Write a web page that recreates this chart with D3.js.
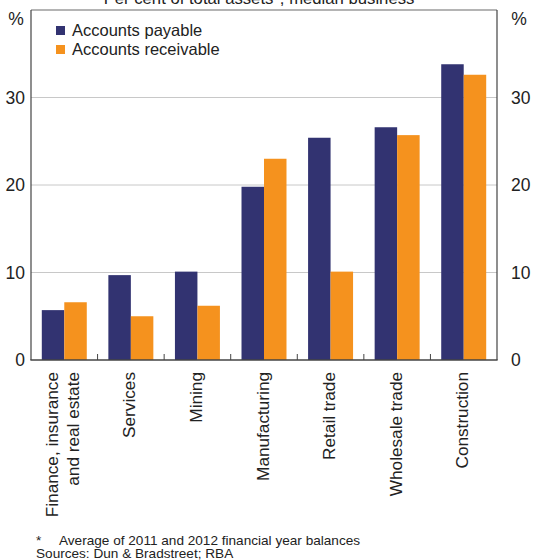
<!DOCTYPE html>
<html>
<head>
<meta charset="utf-8">
<script src="https://cdn.jsdelivr.net/npm/d3@7"></script>
<style>
  html, body { margin: 0; padding: 0; background: #fff; }
  svg { display: block; font-family: "Liberation Sans", Arial, sans-serif; }
</style>
</head>
<body>
<svg id="chart" width="533" height="560"></svg>
<script>
const categories = [
  ["Finance, insurance", "and real estate"],
  ["Services"],
  ["Mining"],
  ["Manufacturing"],
  ["Retail trade"],
  ["Wholesale trade"],
  ["Construction"]
];
const seriesNames = ["Accounts payable", "Accounts receivable"];
const payable    = [5.7, 9.7, 10.1, 19.8, 25.4, 26.6, 33.8];
const receivable = [6.6, 5.0, 6.2, 23.0, 10.1, 25.7, 32.6];
const yTicks = [0, 10, 20, 30];
const colors = ["#323371", "#F5921E"];

const svg = d3.select("#chart");
const m = { left: 31, right: 497, top: 10, bottom: 360 };
const txt = "#222";

const x = d3.scaleBand().domain(d3.range(categories.length)).range([m.left, m.right]).paddingInner(0).paddingOuter(0);
const xs = d3.scaleBand().domain([0, 1]).range([0, x.bandwidth()]).paddingInner(0).paddingOuter(0.48);
const y = d3.scaleLinear().domain([0, 40]).range([m.bottom, m.top]);

// title (cut off at top)
svg.append("text").attr("x", 259).attr("y", 3.5).attr("text-anchor", "middle")
  .attr("font-size", 16.7).attr("fill", txt).text("Per cent of total assets*, median business");

// gridlines
svg.append("g").selectAll("line").data(yTicks.filter(d => d > 0)).join("line")
  .attr("x1", m.left).attr("x2", m.right)
  .attr("y1", d => y(d)).attr("y2", d => y(d))
  .attr("stroke", "#c8c8c8").attr("stroke-width", 1);

// bars
const data = categories.map((c, i) => [payable[i], receivable[i]]);
const groups = svg.append("g").selectAll("g").data(data).join("g")
  .attr("transform", (d, i) => `translate(${x(i)},0)`);
groups.selectAll("rect").data(d => d).join("rect")
  .attr("x", (d, j) => xs(j)).attr("width", xs.bandwidth())
  .attr("y", d => y(d)).attr("height", d => y(0) - y(d))
  .attr("fill", (d, j) => colors[j]);

// frame
svg.append("line").attr("x1", m.left).attr("x2", m.right).attr("y1", m.top).attr("y2", m.top)
  .attr("stroke", "#6a6a6a").attr("stroke-width", 1.2);
svg.append("line").attr("x1", m.left).attr("x2", m.left).attr("y1", m.top).attr("y2", m.bottom)
  .attr("stroke", "#444").attr("stroke-width", 1.2);
svg.append("line").attr("x1", m.right).attr("x2", m.right).attr("y1", m.top).attr("y2", m.bottom)
  .attr("stroke", "#444").attr("stroke-width", 1.2);
svg.append("line").attr("x1", m.left - 0.6).attr("x2", m.right + 0.6).attr("y1", m.bottom).attr("y2", m.bottom)
  .attr("stroke", "#444").attr("stroke-width", 1.6);

// category separator ticks
svg.append("g").selectAll("line").data(d3.range(1, categories.length)).join("line")
  .attr("x1", d => x(d)).attr("x2", d => x(d))
  .attr("y1", m.bottom).attr("y2", m.bottom - 6)
  .attr("stroke", "#444").attr("stroke-width", 1);

// y-axis labels left and right
const yAxisL = d3.axisLeft(y).tickValues(yTicks).tickSize(0).tickPadding(6);
const gL = svg.append("g").attr("transform", `translate(${m.left},0)`).call(yAxisL);
const yAxisR = d3.axisRight(y).tickValues(yTicks).tickSize(0).tickPadding(14);
const gR = svg.append("g").attr("transform", `translate(${m.right},0)`).call(yAxisR);
[gL, gR].forEach(g => {
  g.select(".domain").remove();
  g.selectAll("text").attr("font-size", 17.5).attr("fill", txt).attr("font-family", "Liberation Sans, Arial, sans-serif");
});
svg.append("text").attr("x", 16).attr("y", 25).attr("text-anchor", "middle").attr("font-size", 17.5).attr("fill", txt).text("%");
svg.append("text").attr("x", 519).attr("y", 25).attr("text-anchor", "middle").attr("font-size", 17.5).attr("fill", txt).text("%");

// legend
const leg = svg.append("g");
seriesNames.forEach((s, i) => {
  leg.append("rect").attr("x", 56).attr("y", 26 + i * 19).attr("width", 9).attr("height", 9).attr("fill", colors[i]);
  leg.append("text").attr("x", 72).attr("y", 36 + i * 19).attr("font-size", 16.5).attr("fill", txt).text(s);
});

// category labels (rotated)
const lab = svg.append("g").selectAll("g").data(categories).join("g")
  .attr("transform", (d, i) => `translate(${x(i) + x.bandwidth() / 2 - 1.5},372) rotate(-90)`);
lab.each(function(lines) {
  const g = d3.select(this);
  const n = lines.length;
  lines.forEach((t, k) => {
    g.append("text").attr("x", 0)
      .attr("y", (k - (n - 1) / 2) * 21)
      .attr("dy", "0.35em")
      .attr("text-anchor", "end").attr("font-size", 17.2).attr("fill", txt).text(t);
  });
});

// footnotes
svg.append("text").attr("x", 36).attr("y", 544.5).attr("font-size", 13.6).attr("fill", txt).text("*");
svg.append("text").attr("x", 59).attr("y", 544.5).attr("font-size", 13.6).attr("fill", txt).text("Average of 2011 and 2012 financial year balances");
svg.append("text").attr("x", 36).attr("y", 557.5).attr("font-size", 13.6).attr("fill", txt).text("Sources: Dun & Bradstreet; RBA");
</script>
</body>
</html>
